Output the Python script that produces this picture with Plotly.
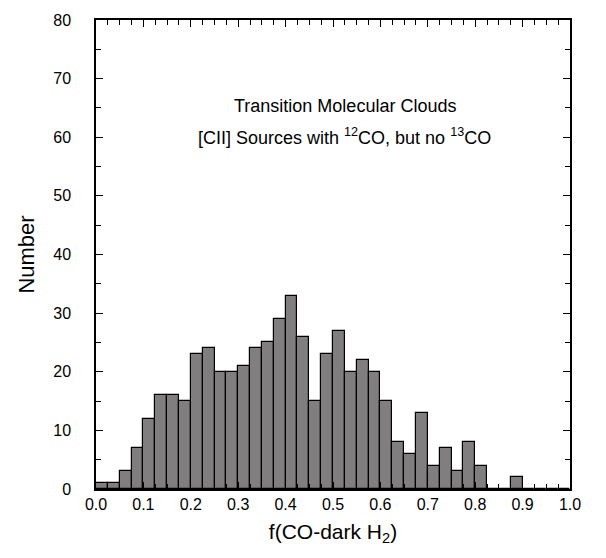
import plotly.graph_objects as go

bin_width = 0.025
bin_left = [i * bin_width for i in range(40)]
counts = [1, 1, 3, 7, 12, 16, 16, 15, 23, 24,
          20, 20, 21, 24, 25, 29, 33, 26, 15, 23,
          27, 20, 22, 20, 15, 8, 6, 13, 4, 7,
          3, 8, 4, 0, 0, 2, 0, 0, 0, 0]
centers = [b + bin_width / 2 for b in bin_left]

fig = go.Figure()
fig.add_trace(go.Bar(
    x=centers, y=counts, width=bin_width,
    marker=dict(color="#807e7e", line=dict(color="black", width=1.2)),
    showlegend=False,
))

font = "Liberation Sans, Arial, sans-serif"
fig.update_layout(
    width=606, height=558,
    margin=dict(l=96, r=36, t=15, b=69),
    paper_bgcolor="white", plot_bgcolor="white",
    font=dict(family=font, color="black", size=16),
    bargap=0,
    xaxis=dict(
        range=[0, 1], tick0=0, dtick=0.1, tickformat=".1f",
        ticks="inside", ticklen=7, tickwidth=1.2, tickcolor="black",
        minor=dict(dtick=0.025, ticks="inside", ticklen=5, tickwidth=1.2, tickcolor="black"),
        showline=True, linecolor="black", linewidth=1.5, mirror="ticks",
        showgrid=False, zeroline=False,
        tickfont=dict(size=16),
        title=dict(text="f(CO-dark H<sub>2</sub>)", font=dict(size=21), standoff=12),
    ),
    yaxis=dict(
        range=[0, 80], tick0=0, dtick=10,
        ticks="inside", ticklen=7, tickwidth=1.2, tickcolor="black",
        minor=dict(dtick=5, ticks="inside", ticklen=5, tickwidth=1.2, tickcolor="black"),
        showline=True, linecolor="black", linewidth=1.5, mirror="ticks",
        showgrid=False, zeroline=False,
        tickfont=dict(size=16), ticklabelstandoff=20,
        title=dict(text="Number", font=dict(size=22), standoff=13),
    ),
    annotations=[
        dict(x=0.525, y=65.4, xref="x", yref="y", showarrow=False,
             text="Transition Molecular Clouds", font=dict(size=18)),
        dict(x=0.525, y=60.1, xref="x", yref="y", showarrow=False,
             text="[CII] Sources with <sup>12</sup>CO, but no <sup>13</sup>CO",
             font=dict(size=18)),
    ],
)

fig.write_html("out.html")
